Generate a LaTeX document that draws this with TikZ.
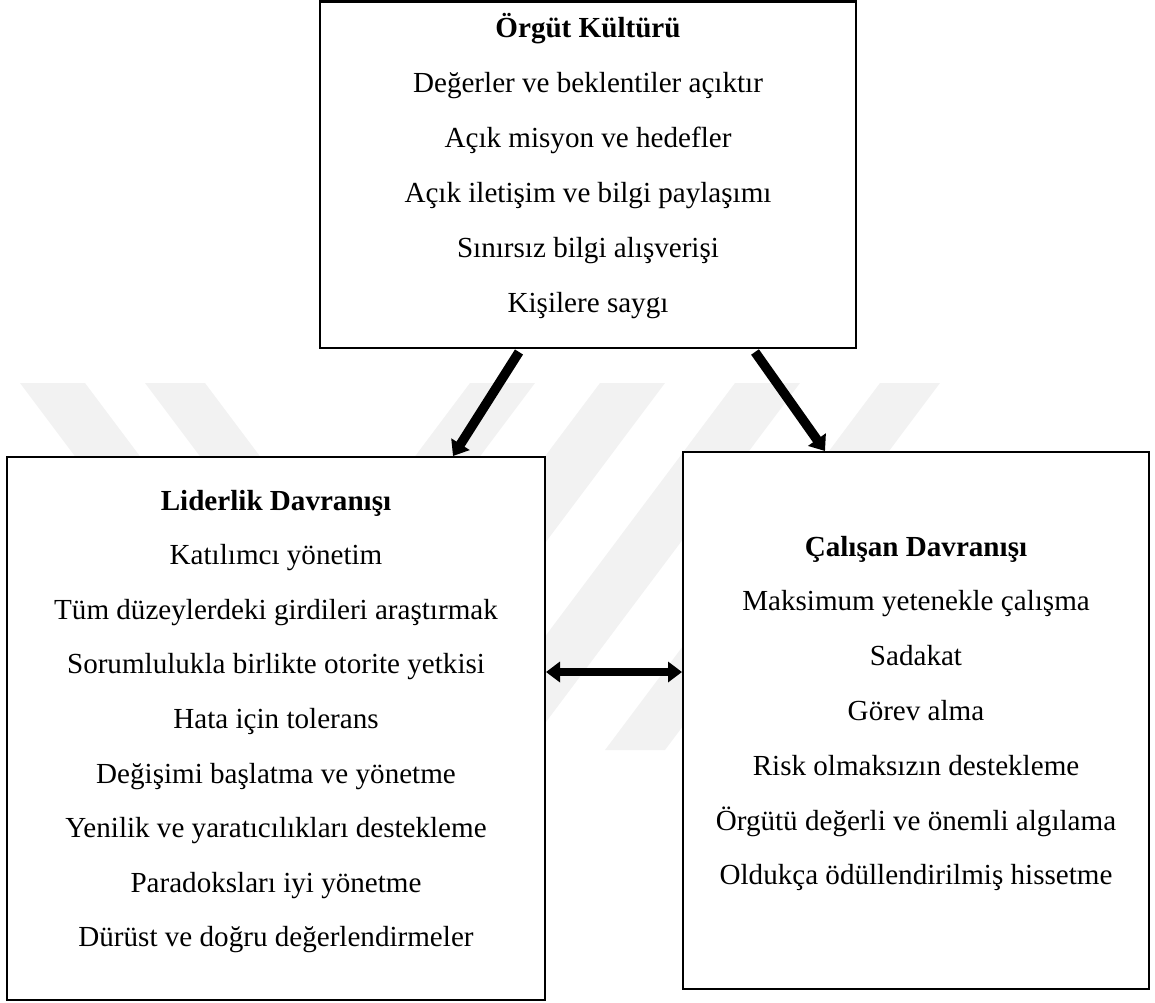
\documentclass[tikz,border=0pt]{standalone}
\usepackage{fontspec}
\setmainfont{Liberation Serif}
\usetikzlibrary{arrows.meta}
\begin{document}
\begin{tikzpicture}[x=1pt,y=-1pt,
  box/.style={draw=black,line width=2.8pt,fill=white,rectangle,inner sep=0pt},
  txt/.style={anchor=base,inner sep=0pt,font=\fontsize{29.1}{35}\selectfont},
  ttl/.style={anchor=base,inner sep=0pt,font=\fontsize{29.1}{35}\selectfont\bfseries},
  conn/.style={line width=9.5pt,-{Triangle[length=14pt,width=21pt]}},
  dconn/.style={line width=8pt,{Triangle[length=14pt,width=20pt]}-{Triangle[length=14pt,width=20pt]}},
  wm/.style={fill=black!5,draw=none}]
\useasboundingbox (0,0) rectangle (1155,1002);
% faint background watermark bands
\fill[wm] (20,383) -- (85,383) -- (360,750) -- (295,750) -- cycle;
\fill[wm] (145,383) -- (205,383) -- (480,750) -- (420,750) -- cycle;
\fill[wm] (470,383) -- (535,383) -- (260,750) -- (195,750) -- cycle;
\fill[wm] (600,383) -- (665,383) -- (390,750) -- (325,750) -- cycle;
\fill[wm] (735,383) -- (800,383) -- (525,750) -- (460,750) -- cycle;
\fill[wm] (880,383) -- (940,383) -- (665,750) -- (605,750) -- cycle;
% boxes
\node[box,minimum width=536pt,minimum height=346.5pt] (org) at (588,174.75) {};
\node[box,minimum width=538pt,minimum height=543pt] (lid) at (276,728.5) {};
\node[box,minimum width=466pt,minimum height=537pt] (cal) at (916,720.5) {};
% texts
\node[ttl] (o0) at (588,37) {Örgüt Kültürü};
\foreach \t [count=\i] in {Değerler ve beklentiler açıktır,Açık misyon ve hedefler,Açık iletişim ve bilgi paylaşımı,Sınırsız bilgi alışverişi,Kişilere saygı}
  \node[txt] (o\i) at (588,{37+55*\i}) {\t};
\node[ttl] (l0) at (276,510) {Liderlik Davranışı};
\foreach \t [count=\i] in {Katılımcı yönetim,Tüm düzeylerdeki girdileri araştırmak,Sorumlulukla birlikte otorite yetkisi,Hata için tolerans,Değişimi başlatma ve yönetme,Yenilik ve yaratıcılıkları destekleme,Paradoksları iyi yönetme,Dürüst ve doğru değerlendirmeler}
  \node[txt] (l\i) at (276,{510+54.6*\i}) {\t};
\node[ttl] (c0) at (916,556) {Çalışan Davranışı};
\foreach \t [count=\i] in {Maksimum yetenekle çalışma,Sadakat,Görev alma,Risk olmaksızın destekleme,Örgütü değerli ve önemli algılama,Oldukça ödüllendirilmiş hissetme}
  \node[txt] (c\i) at (916,{556+54.8*\i}) {\t};
% connectors
\coordinate (a1s) at (519,352);
\coordinate (a1e) at (453,456);
\coordinate (a2s) at (755,352);
\coordinate (a2e) at (825,451);
\coordinate (hl) at (546,672);
\coordinate (hr) at (682,672);
\draw[conn] (a1s) -- (a1e);
\draw[conn] (a2s) -- (a2e);
\draw[dconn] (hl) -- (hr);
\end{tikzpicture}
\end{document}
